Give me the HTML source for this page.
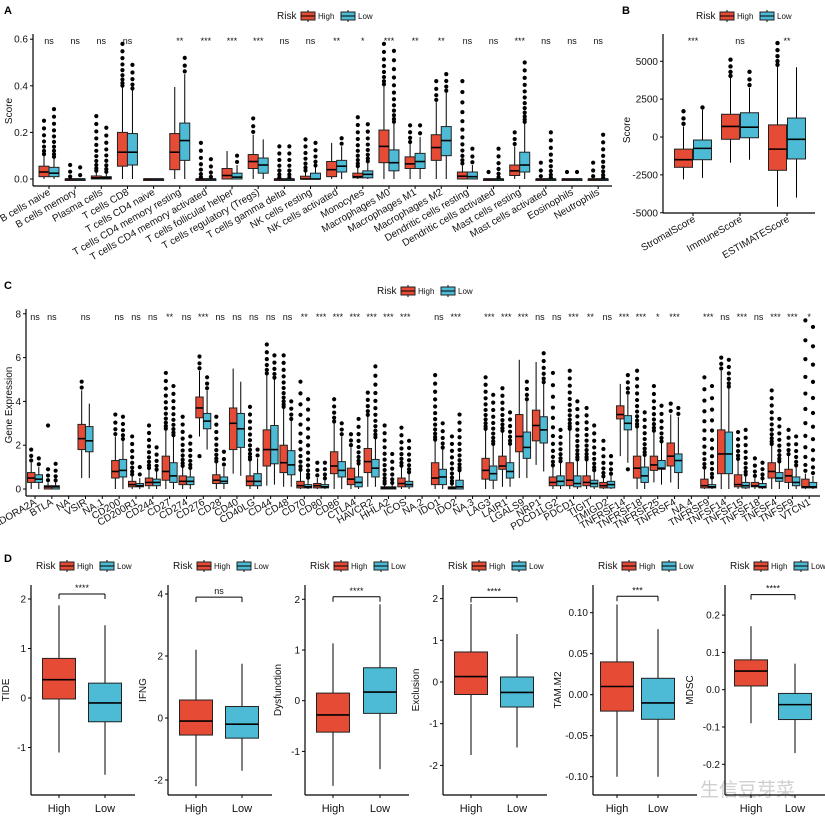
<!DOCTYPE html>
<html><head><meta charset="utf-8"><style>
html,body{margin:0;padding:0;background:#fff;}
svg{display:block;font-family:"Liberation Sans",Arial,sans-serif;}
</style></head><body>
<svg id="s" width="825" height="824" viewBox="0 0 825 824" xmlns="http://www.w3.org/2000/svg">
<rect width="825" height="824" fill="#fff"/>
<text x="4" y="14" font-size="11" font-weight="bold">A</text>
<text x="622" y="14" font-size="11" font-weight="bold">B</text>
<text x="4" y="289" font-size="11" font-weight="bold">C</text>
<text x="4" y="562" font-size="11" font-weight="bold">D</text>
<text x="700" y="796" font-size="19" fill="#cfcfcf" font-family="'Noto Sans CJK SC',sans-serif">生信豆芽菜</text>
</svg>
<script>
var S=document.getElementById('s'),NS='http://www.w3.org/2000/svg';
var RED='#E64B35',BLUE='#4DBBD5';
function el(t,a,txt){var e=document.createElementNS(NS,t);for(var k in a)e.setAttribute(k,a[k]);if(txt!==undefined)e.textContent=txt;S.appendChild(e);return e;}
function line(x1,y1,x2,y2,w,c){el('line',{x1:x1,y1:y1,x2:x2,y2:y2,stroke:c||'#000','stroke-width':w||1});}
function txt(x,y,s,fs,anchor,extra){var a={x:x,y:y,'font-size':fs,'text-anchor':anchor||'start',fill:'#111'};if(extra)for(var k in extra)a[k]=extra[k];return el('text',a,s);}
function legend(x,y){txt(x,y,'Risk',10);
 var bx=x+24;[[RED,'High'],[BLUE,'Low']].forEach(function(p,i){var xx=bx+i*40;
  line(xx+7,y-9,xx+7,y+3,1);el('rect',{x:xx,y:y-7,width:14,height:8,fill:p[0],stroke:'#222','stroke-width':1});line(xx,y-3,xx+14,y-3,1);
  txt(xx+17,y,p[1],8);});}
function box(cx,w,st,sc,fill,dotR){
 var q1=st[0],m=st[1],q3=st[2],wl=st[3],wh=st[4],om=st[5];
 if(om!==undefined&&om>wh){var y0=sc(wh),y1=sc(om),n=Math.max(1,Math.min(12,Math.round((y0-y1)/5)));
  for(var i=1;i<=n;i++){var t=Math.pow(i/n,1.6);el('circle',{cx:cx,cy:y0-(y0-y1)*t,r:dotR||2.2,fill:'#000'});}}
 if(st[6]!==undefined)el('circle',{cx:cx,cy:sc(st[6]),r:dotR||2.2,fill:'#000'});
 line(cx,sc(wl),cx,sc(q1),1);line(cx,sc(q3),cx,sc(wh),1);
 var yt=sc(q3),yb=sc(q1);if(yb-yt<1.5){yb=yt+1.5;}
 el('rect',{x:cx-w/2,y:yt,width:w,height:yb-yt,fill:fill,stroke:'#222','stroke-width':1});
 line(cx-w/2,sc(m),cx+w/2,sc(m),1.6);}
function yaxis(x,yt,yb,ticks,sc,fs){line(x,yt,x,yb,1.2);ticks.forEach(function(t){var y=sc(t[0]);line(x-3,y,x,y,1);txt(x-5,y+3.5,t[1],fs||10,'end');});}

/* ---------- Panel A ---------- */
(function(){
var sc=function(v){return 179-v*233;};
legend(277,19);
yaxis(33,34,186,[[0,'0.0'],[0.2,'0.2'],[0.4,'0.4'],[0.6,'0.6']],sc);
line(33,186,612,186,1.2);
txt(12,111,'Score',10,'middle',{transform:'rotate(-90 12 111)'});
var names=['B cells naive','B cells memory','Plasma cells','T cells CD8','T cells CD4 naive','T cells CD4 memory resting','T cells CD4 memory activated','T cells follicular helper','T cells regulatory (Tregs)','T cells gamma delta','NK cells resting','NK cells activated','Monocytes','Macrophages M0','Macrophages M1','Macrophages M2','Dendritic cells resting','Dendritic cells activated','Mast cells resting','Mast cells activated','Eosinophils','Neutrophils'];
var sig=['ns','ns','ns','ns','','**','***','***','***','ns','ns','**','*','***','**','**','ns','ns','***','ns','ns','ns'];
var H=[[.01,.03,.055,0,.1,.25],[0,0,0,0,0,.06],[0,.005,.013,0,.03,.27],[.055,.115,.2,0,.395,.58],[0,0,0,0,0],[.04,.115,.195,0,.395],[0,0,0,0,0,.155],[0,.015,.045,0,.12],[.045,.075,.105,0,.19,.26],[0,0,0,0,0,.14],[0,0,.012,0,.03,.17],[.01,.04,.075,0,.155],[.005,.01,.025,0,.05,.265],[.07,.14,.21,0,.4,.58],[.045,.065,.095,0,.15,.23],[.08,.135,.19,0,.33,.42],[0,.012,.03,0,.06,.42],[0,0,0,0,0,.03],[.015,.035,.06,0,.14,.2],[0,0,0,0,0,.07],[0,0,0,0,0,.03],[0,0,0,0,0,.07]];
var L=[[.01,.025,.05,0,.09,.3],[0,0,0,0,0,.05],[0,.005,.01,0,.025,.22],[.06,.115,.195,0,.38,.49],[0,0,0,0,0],[.08,.165,.24,0,.45,.52],[0,0,0,0,0,.085],[0,.008,.025,0,.06,.1],[.025,.06,.09,0,.17],[0,0,0,0,0,.14],[0,0,.025,0,.05,.155],[.03,.055,.08,0,.14,.175],[.005,.02,.035,0,.07,.235],[.035,.07,.125,0,.24,.55],[.045,.075,.11,0,.18,.23],[.1,.165,.225,0,.37,.45],[0,.01,.03,0,.06,.13],[0,0,0,0,0,.13],[.03,.06,.115,0,.24,.5],[0,0,0,0,0,.2],[0,0,0,0,0,.03],[0,0,0,0,0,.19]];
for(var i=0;i<22;i++){var cx=49+i*26.15;
 box(cx-5,10,H[i],sc,RED,2.1);box(cx+5,10,L[i],sc,BLUE,2.1);
 line(cx,186,cx,189,1);
 if(sig[i])txt(cx,44,sig[i],9,'middle');
 txt(cx+2,194,names[i],10,'end',{transform:'rotate(-30 '+(cx+2)+' 194)'});}
})();

/* ---------- Panel B ---------- */
(function(){
var sc=function(v){return 137-v*0.01515;};
legend(696,19);
yaxis(663,34,213,[[-5000,'-5000'],[-2500,'-2500'],[0,'0'],[2500,'2500'],[5000,'5000']],sc);
line(663,213,815,213,1.2);
txt(630,130,'Score',10,'middle',{transform:'rotate(-90 630 130)'});
var names=['StromalScore','ImmuneScore','ESTIMATEScore'],sig=['***','ns','**'];
var H=[[-2000,-1500,-800,-2800,700,1700],[-150,700,1500,-1700,3900,5100],[-2200,-800,800,-4600,4650,6200]];
var L=[[-1500,-750,-200,-2700,1800,1950],[-50,650,1600,-1500,3250,4300],[-1450,-150,1250,-4000,4600]];
for(var i=0;i<3;i++){var cx=693+i*47;
 box(cx-9.5,18,H[i],sc,RED,2.2);box(cx+9.5,18,L[i],sc,BLUE,2.2);
 line(cx,213,cx,216,1);txt(cx,44,sig[i],9,'middle');
 txt(cx+3,221,names[i],10,'end',{transform:'rotate(-30 '+(cx+3)+' 221)'});}
})();

/* ---------- Panel C ---------- */
(function(){
var sc=function(v){return 489-v*21.9;};
legend(377,294);
yaxis(26,309,496,[[0,'0'],[2,'2'],[4,'4'],[6,'6'],[8,'8']],sc);
line(26,496,820,496,1.2);
txt(12,405,'Gene Expression',10,'middle',{transform:'rotate(-90 12 405)'});
var names=['ADORA2A','BTLA','NA','VSIR','NA.1','CD200','CD200R1','CD244','CD27','CD274','CD276','CD28','CD40','CD40LG','CD44','CD48','CD70','CD80','CD86','CTLA4','HAVCR2','HHLA2','ICOS','NA.2','IDO1','IDO2','NA.3','LAG3','LAIR1','LGALS9','NRP1','PDCD1LG2','PDCD1','TIGIT','TMIGD2','TNFRSF14','TNFRSF18','TNFRSF25','TNFRSF4','NA.4','TNFRSF9','TNFSF14','TNFSF15','TNFSF18','TNFSF4','TNFSF9','VTCN1'];
var sig=['ns','ns','','ns','','ns','ns','ns','**','ns','***','ns','ns','ns','ns','ns','**','***','***','***','***','***','***','','ns','***','','***','***','***','ns','ns','***','**','ns','***','***','*','***','','***','ns','***','ns','***','***','*'];
var D={
0:[[.3,.5,.75,0,1.2,1.8],[.3,.45,.65,0,1,1.4]],
1:[[0,.1,.15,0,.3,.9,2.9],[0,.1,.15,0,.3,1.15]],
3:[[1.8,2.3,2.95,.5,4.5,4.9],[1.7,2.2,2.85,.5,3.9]],
5:[[.5,.8,1.3,0,2.4,3.4],[.55,.85,1.35,0,2.2,3.3]],
6:[[.1,.2,.35,0,.6,2.4],[.1,.15,.25,0,.5,1]],
7:[[.15,.3,.5,0,.9,2.9],[.15,.3,.45,0,.8,1.9]],
8:[[.4,.8,1.5,0,2.7,5.3],[.3,.6,1.2,0,2.4,4.7]],
9:[[.2,.35,.6,0,1,3.3],[.2,.35,.55,0,.9,2.4]],
10:[[3.25,3.7,4.2,2.4,5.4,6.05,1.5],[2.75,3.1,3.45,1.8,4.5,5.1]],
11:[[.25,.4,.65,0,1.2,3.3],[.25,.35,.55,0,1,1.7]],
12:[[1.8,3,3.7,.7,5.5],[1.9,2.75,3.45,.6,4.9]],
13:[[.15,.35,.6,0,1.3,3.75],[.15,.35,.7,0,1.4,1.8]],
14:[[1.05,1.8,2.7,.15,5.2,6.6],[1.15,1.8,2.9,.2,5,6.1]],
15:[[.75,1.2,2,.1,3.7,6.1],[.65,1.1,1.75,.1,3.1,4]],
16:[[.05,.15,.35,0,.8,4.9],[.05,.1,.2,0,.45,4.1]],
17:[[.05,.15,.25,0,.5,1.2],[.05,.1,.2,0,.4,1.2]],
18:[[.7,1.05,1.7,0,3,4.1],[.55,.85,1.25,0,2.4,3]],
19:[[.2,.45,.95,0,1.9,2.5],[.1,.3,.55,0,1.1,3.2]],
20:[[.75,1.25,1.85,.1,3.3,4.4],[.55,.95,1.35,.1,2.3,5.6]],
21:[[0,.05,.1,0,.2,2.9],[0,.05,.1,0,.2,1.6]],
22:[[.1,.25,.5,0,1,2.8],[.1,.2,.35,0,.7,2.2]],
24:[[.2,.5,1.2,0,2.2,5.2],[.2,.55,.9,0,1.8,3]],
25:[[0,.05,.1,0,.2,2.4],[0,.1,.4,0,.8,3.4]],
27:[[.45,.85,1.4,0,2.7,5.1],[.4,.7,1.05,0,2,4.3]],
28:[[.9,1.05,1.5,.1,2.6,4.6],[.5,.8,1.2,.1,2,3.5]],
29:[[1.7,2.4,3.4,.5,5.9],[1.4,1.9,2.6,.5,4,4.9]],
30:[[2.2,2.9,3.6,1.1,5.8],[2.1,2.7,3.3,.8,4.8,6.2]],
31:[[.15,.3,.55,0,1,5.3],[.15,.35,.6,0,1.2,2.7]],
32:[[.15,.4,1.2,0,2.7,5.4],[.1,.25,.6,0,1.3,4]],
33:[[.15,.3,.6,0,1.3,3.7],[.1,.25,.4,0,.8,2.9]],
34:[[.05,.15,.3,0,.5,2.2],[.05,.2,.35,0,.6,1.5]],
35:[[3.2,3.4,3.8,1.5,4.8],[2.7,3,3.35,1.2,4.3,5.2,.9]],
36:[[.5,.95,1.5,0,2.8,5.4],[.3,.6,1,0,1.5,3.5]],
37:[[.85,1.1,1.5,.3,2.6,4.7],[.9,.95,1.3,.2,2.1,3.8]],
38:[[1.05,1.5,2.1,.3,3.4,3.9],[.75,1.3,1.6,0,3.3,3.7]],
40:[[.05,.15,.45,0,.9,5.1],[.05,.1,.2,0,.45,4.7]],
41:[[.7,1.6,2.7,0,5.4,6],[.7,1.6,2.6,0,4.6,5.9]],
42:[[.1,.2,.65,0,1.3,2.6],[.05,.15,.3,0,.6,2.7]],
43:[[.1,.15,.3,0,.5,1.4],[.05,.1,.25,0,.4,1.2]],
44:[[.5,.8,1.2,0,2,4.5],[.35,.5,.75,0,1.2,3.2]],
45:[[.3,.6,.9,0,1.5,2.7],[.15,.3,.55,0,1,2.4]],
46:[[.05,.1,.45,0,.7,7.7],[.05,.1,.3,0,.6,7.4]]};
for(var i=0;i<47;i++){var cx=35+i*16.83;
 if(D[i]){box(cx-3.8,7.4,D[i][0],sc,RED,2.1);box(cx+3.8,7.4,D[i][1],sc,BLUE,2.1);}
 line(cx,496,cx,499,1);
 if(sig[i])txt(cx,320,sig[i],9,'middle');
 txt(cx+2,504,names[i],10,'end',{transform:'rotate(-30 '+(cx+2)+' 504)'});}
})();

/* ---------- Panel D ---------- */
(function(){
var P=[
 {ax:31,h:59,l:105,name:'TIDE',y0:698,k:49.5,ticks:[[-1,'-1'],[0,'0'],[1,'1'],[2,'2']],H:[-.02,.37,.8,-1.1,1.87],L:[-.48,-.1,.3,-1.55,1.47],b:2.1,s:'****'},
 {ax:168,h:196,l:242,name:'IFNG',y0:718,k:31,ticks:[[-2,'-2'],[0,'0'],[2,'2'],[4,'4']],H:[-.55,-.1,.58,-2.2,2.2],L:[-.65,-.2,.37,-1.7,1.75],b:3.9,s:'ns'},
 {ax:305,h:333,l:380,name:'Dysfunction',y0:700.7,k:50.7,ticks:[[-1,'-1'],[0,'0'],[1,'1'],[2,'2']],H:[-.62,-.28,.15,-1.68,1.13],L:[-.25,.17,.65,-1.35,1.9],b:2.05,s:'****'},
 {ax:443,h:471,l:517,name:'Exclusion',y0:682,k:41.7,ticks:[[-2,'-2'],[-1,'-1'],[0,'0'],[1,'1'],[2,'2']],H:[-.3,.13,.72,-1.75,1.87],L:[-.6,-.25,.12,-1.57,1.15],b:2.03,s:'****'},
 {ax:593,h:617,l:658,name:'TAM.M2',y0:694.7,k:820,ticks:[[-.1,'-0.10'],[-.05,'-0.05'],[0,'0.00'],[.05,'0.05'],[.1,'0.10']],H:[-.02,.01,.04,-.1,.11],L:[-.03,-.01,.02,-.1,.08],b:.12,s:'***'},
 {ax:725,h:751,l:795,name:'MDSC',y0:689.7,k:373,ticks:[[-.2,'-0.2'],[-.1,'-0.1'],[0,'0.0'],[.1,'0.1'],[.2,'0.2']],H:[.01,.05,.08,-.09,.17],L:[-.08,-.04,-.01,-.17,.07],b:.255,s:'****'}];
P.forEach(function(p){
 var sc=function(v){return p.y0-v*p.k;};
 legend(p.ax+5,569);
 yaxis(p.ax,585,795,p.ticks,sc,10);
 line(p.ax,795,p.ax+104,795,1.2);
 var lx=p.ax-(p.name.length>5||p.ticks[0][1].length>3?24:22);
 if(p.name==='TAM.M2'||p.name==='MDSC')lx=p.ax-32;
 txt(lx,690,p.name,10,'middle',{transform:'rotate(-90 '+lx+' 690)'});
 box(p.h,33,p.H,sc,RED);box(p.l,33,p.L,sc,BLUE);
 [[p.h,'High'],[p.l,'Low']].forEach(function(q){line(q[0],795,q[0],798,1);txt(q[0],812,q[1],11,'middle');});
 var by=sc(p.b);line(p.h,by,p.l,by,1);line(p.h,by,p.h,by+5,1);line(p.l,by,p.l,by+5,1);
 txt((p.h+p.l)/2,by-3,p.s,9,'middle');
});
})();
</script>
</body></html>
